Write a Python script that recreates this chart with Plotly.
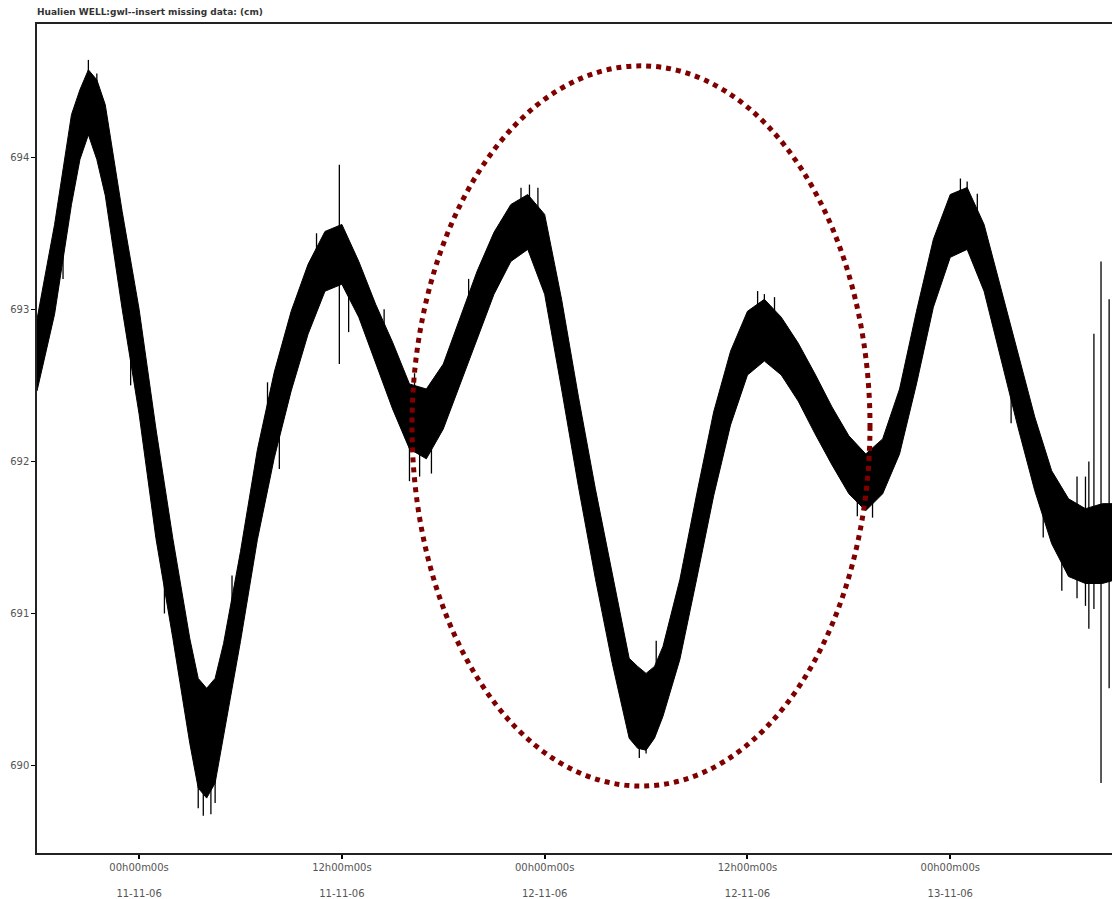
import pandas as pd
import plotly.graph_objects as go

# ---------------- data ----------------
BASE = pd.Timestamp("2006-11-11 00:00:00")

# hours relative to 11-11-06 00:00
hours = [-6.04, -5, -4, -3.5, -3, -2.5, -2, -1, 0, 1, 2, 3, 3.5, 4, 4.5, 5, 6,
         7, 8, 9, 10, 11, 12, 13, 14, 15, 16, 17, 18, 19, 20, 21, 22, 23, 24,
         25, 26, 27, 28, 29, 29.5, 30, 30.5, 31, 32, 33, 34, 35, 36, 37, 38,
         39, 40, 41, 42, 43, 44, 45, 46, 47, 48, 49, 50, 51, 52, 53, 54, 55,
         56, 57, 57.6]

# upper envelope of the noisy water-level band (cm)
gwl_upper = [692.935, 693.558, 694.280, 694.444, 694.575, 694.509, 694.345,
             693.643, 693.001, 692.213, 691.492, 690.836, 690.573, 690.508,
             690.573, 690.803, 691.407, 692.076, 692.587, 692.987, 693.296,
             693.512, 693.558, 693.315, 693.033, 692.784, 692.509, 692.476,
             692.640, 692.948, 693.250, 693.506, 693.689, 693.755, 693.624,
             693.066, 692.423, 691.820, 691.262, 690.705, 690.652, 690.606,
             690.652, 690.783, 691.223, 691.787, 692.325, 692.725, 692.987,
             693.066, 692.948, 692.778, 692.574, 692.358, 692.168, 692.049,
             692.148, 692.476, 692.987, 693.460, 693.755, 693.801, 693.558,
             693.132, 692.705, 692.292, 691.938, 691.754, 691.689, 691.722,
             691.722]

# lower envelope of the band (cm)
gwl_lower = [692.463, 692.968, 693.689, 693.985, 694.148, 693.985, 693.748,
             693.001, 692.312, 691.492, 690.836, 690.147, 689.852, 689.786,
             689.885, 690.213, 690.816, 691.485, 692.023, 692.463, 692.837,
             693.119, 693.165, 692.948, 692.640, 692.345, 692.082, 692.017,
             692.213, 692.509, 692.804, 693.099, 693.315, 693.394, 693.099,
             692.476, 691.833, 691.230, 690.672, 690.180, 690.114, 690.101,
             690.180, 690.324, 690.698, 691.230, 691.774, 692.240, 692.568,
             692.660, 692.568, 692.397, 692.181, 691.977, 691.787, 691.676,
             691.787, 692.049, 692.509, 693.014, 693.342, 693.394, 693.119,
             692.673, 692.227, 691.807, 691.459, 691.243, 691.197, 691.197,
             691.216]

# isolated noise spikes: time (h), low end, high end (cm)
spike_hours = [-4.5, -3.0, -2.5, -0.5, 1.5, 3.5, 3.8, 4.25, 4.5, 5.5, 7.6,
               8.3, 10.5, 11.85, 12.4, 14.5, 16.0, 16.3, 16.6, 17.3, 19.5,
               22.6, 23.1, 23.6, 29.6, 30.0, 30.6, 36.6, 37.0, 37.6, 42.5,
               43.4, 48.6, 49.0, 49.6, 51.6, 53.5, 54.6, 55.5, 56.0, 56.2,
               56.5, 56.92, 57.4]
spike_low = [693.20, 694.15, 694.20, 692.50, 691.00, 689.72, 689.67, 689.68,
             689.754, 690.80, 692.00, 691.95, 693.10, 692.64, 692.85, 692.60,
             691.87, 692.20, 691.90, 691.92, 692.80, 693.50, 693.40, 693.30,
             690.05, 690.08, 690.50, 692.80, 692.70, 692.80, 691.64, 691.63,
             693.50, 693.40, 693.40, 692.25, 691.50, 691.15, 691.10, 691.05,
             690.90, 691.03, 689.885, 690.508]
spike_high = [693.60, 694.64, 694.55, 692.90, 691.50, 690.40, 690.30, 690.30,
              690.40, 691.25, 692.52, 692.30, 693.50, 693.95, 693.30, 693.00,
              692.30, 692.58, 692.30, 692.30, 693.20, 693.80, 693.82, 693.80,
              690.40, 690.50, 690.82, 693.12, 693.10, 693.08, 692.00, 692.00,
              693.86, 693.84, 693.76, 692.70, 691.90, 691.60, 691.90, 691.90,
              692.00, 692.84, 693.315, 693.066]

# x-axis ticks
tick_hours = [0, 12, 24, 36, 48]
tick_text = ["00h00m00s<br><br>11-11-06", "12h00m00s<br><br>11-11-06",
             "00h00m00s<br><br>12-11-06", "12h00m00s<br><br>12-11-06",
             "00h00m00s<br><br>13-11-06"]
y_ticks = [690, 691, 692, 693, 694]

# view window and highlighted (inserted data) region
x_range_hours = [-6.04, 57.57]
y_range = [689.425, 694.876]
ellipse_hours = [16.15, 43.25]
ellipse_vals = [689.865, 694.601]

TITLE = "Hualien WELL:gwl--insert missing data: (cm)"


def to_time(h):
    return BASE + pd.Timedelta(hours=h)


t = [to_time(h) for h in hours]

fig = go.Figure()

# band polygon (upper envelope forward, lower envelope backward)
fig.add_trace(go.Scatter(
    x=t + t[::-1],
    y=gwl_upper + gwl_lower[::-1],
    mode="lines",
    fill="toself",
    fillcolor="black",
    line=dict(color="black", width=1),
    hoverinfo="skip",
    showlegend=False,
))

# spikes
sx, sy = [], []
for h, lo, hi in zip(spike_hours, spike_low, spike_high):
    sx += [to_time(h), to_time(h), None]
    sy += [lo, hi, None]
fig.add_trace(go.Scatter(
    x=sx, y=sy, mode="lines",
    line=dict(color="black", width=1.3),
    hoverinfo="skip", showlegend=False,
))

fig.add_shape(
    type="circle", xref="x", yref="y",
    x0=to_time(ellipse_hours[0]), x1=to_time(ellipse_hours[1]),
    y0=ellipse_vals[0], y1=ellipse_vals[1],
    line=dict(color="#800000", width=5, dash="dot"),
    layer="above",
)

tick_font = dict(family="DejaVu Sans", size=10, color="#555555")

fig.update_layout(
    width=1112, height=899,
    margin=dict(l=37, r=0, t=24, b=43, pad=0),
    paper_bgcolor="white", plot_bgcolor="white",
    showlegend=False,
    title=dict(text=TITLE, x=37 / 1112, xanchor="left", xref="container",
               y=1 - 12 / 899, yanchor="middle", yref="container",
               font=dict(family="DejaVu Sans", size=9, color="#333333",
                         weight="bold")),
    xaxis=dict(
        type="date",
        range=[to_time(x_range_hours[0]), to_time(x_range_hours[1])],
        tickvals=[to_time(h) for h in tick_hours],
        ticktext=tick_text,
        ticks="outside", ticklen=4, tickwidth=1.5, tickcolor="black",
        showline=True, linecolor="#222222", linewidth=1.5, mirror=True,
        showgrid=False, zeroline=False,
        tickfont=tick_font,
    ),
    yaxis=dict(
        range=y_range,
        tickvals=y_ticks,
        ticktext=[str(v) for v in y_ticks],
        ticks="outside", ticklen=4, tickwidth=1, tickcolor="black",
        showline=True, linecolor="#222222", linewidth=1.5, mirror=False,
        showgrid=False, zeroline=False,
        tickfont=tick_font,
    ),
)

fig.write_html("out.html")
